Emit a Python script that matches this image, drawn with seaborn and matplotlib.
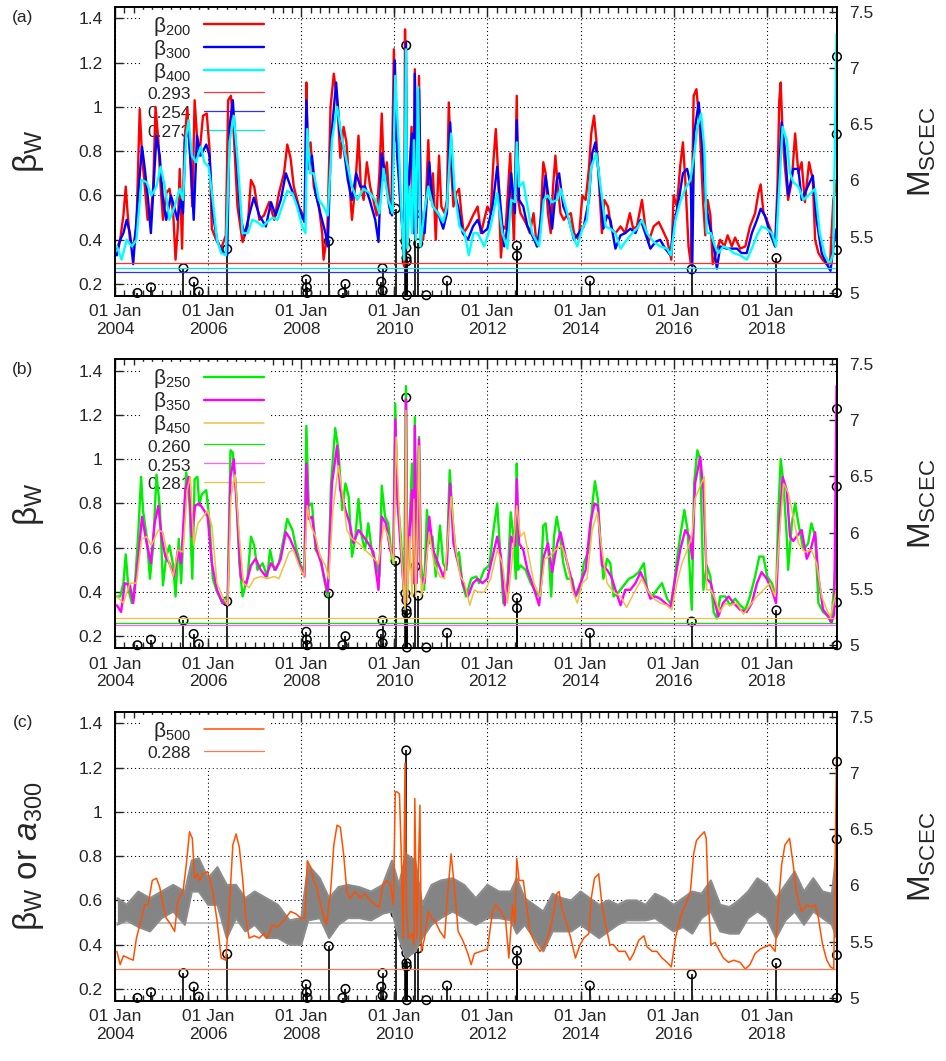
import numpy as np
import pandas as pd
import matplotlib
matplotlib.use('Agg')
import matplotlib.pyplot as plt
import matplotlib.dates as mdates
from matplotlib.ticker import FixedLocator, FuncFormatter
import seaborn as sns

sns.set_theme(style='ticks')
plt.rcParams['font.family'] = ['Liberation Sans', 'DejaVu Sans']
plt.rcParams['mathtext.fontset'] = 'custom'
plt.rcParams['mathtext.rm'] = 'Liberation Sans'
plt.rcParams['mathtext.it'] = 'Liberation Sans:italic'
plt.rcParams['mathtext.bf'] = 'Liberation Sans:bold'

# ---- data: (decimal year, beta) ----
beta200 = [(2004.04,0.36),(2004.11,0.40),(2004.18,0.51),(2004.23,0.64),(2004.27,0.52),(2004.32,0.40),(2004.39,0.37),(2004.46,0.46),(2004.53,0.99),(2004.58,0.78),(2004.64,0.64),(2004.70,0.49),(2004.77,0.51),(2004.82,0.64),(2004.87,1.00),(2004.93,0.85),(2004.98,0.64),(2005.03,0.49),(2005.10,0.61),(2005.17,0.63),(2005.25,0.52),(2005.30,0.31),(2005.35,0.46),(2005.39,0.72),(2005.44,0.36),(2005.49,0.84),(2005.55,0.99),(2005.60,0.85),(2005.66,0.55),(2005.71,1.03),(2005.77,0.84),(2005.81,0.78),(2005.89,0.96),(2005.97,0.97),(2006.03,0.81),(2006.08,0.45),(2006.17,0.40),(2006.28,0.36),(2006.38,0.42),(2006.43,1.03),(2006.49,1.05),(2006.55,0.88),(2006.63,0.55),(2006.74,0.39),(2006.85,0.46),(2006.92,0.67),(2006.99,0.64),(2007.10,0.49),(2007.20,0.51),(2007.31,0.57),(2007.42,0.49),(2007.52,0.61),(2007.63,0.70),(2007.70,0.83),(2007.77,0.77),(2007.84,0.64),(2007.95,0.55),(2008.04,0.51),(2008.09,0.52),(2008.11,1.11),(2008.14,0.81),(2008.20,0.84),(2008.27,0.64),(2008.38,0.55),(2008.45,0.43),(2008.48,0.31),(2008.56,0.43),(2008.63,1.00),(2008.70,1.15),(2008.77,1.03),(2008.84,0.77),(2008.91,0.91),(2008.97,0.84),(2009.04,0.64),(2009.09,0.49),(2009.16,0.64),(2009.23,0.87),(2009.28,0.64),(2009.34,0.58),(2009.41,0.75),(2009.48,0.64),(2009.55,0.58),(2009.62,0.51),(2009.68,0.70),(2009.73,0.97),(2009.78,0.67),(2009.84,0.75),(2009.91,0.52),(2009.94,0.58),(2009.99,1.26),(2010.04,0.85),(2010.08,0.82),(2010.12,0.58),(2010.16,0.49),(2010.21,0.28),(2010.23,1.35),(2010.26,0.43),(2010.30,0.58),(2010.33,0.70),(2010.37,0.91),(2010.41,0.43),(2010.44,1.17),(2010.48,0.43),(2010.53,1.14),(2010.57,0.55),(2010.62,0.40),(2010.68,0.58),(2010.73,0.85),(2010.78,0.58),(2010.83,0.70),(2010.89,0.40),(2010.96,0.78),(2011.01,0.55),(2011.08,0.52),(2011.13,0.58),(2011.17,1.02),(2011.22,0.73),(2011.27,0.55),(2011.33,0.61),(2011.39,0.63),(2011.44,0.52),(2011.49,0.43),(2011.58,0.46),(2011.69,0.51),(2011.79,0.55),(2011.86,0.43),(2011.93,0.49),(2012.00,0.55),(2012.07,0.52),(2012.13,0.76),(2012.18,0.90),(2012.23,0.70),(2012.29,0.32),(2012.34,0.46),(2012.39,0.45),(2012.43,0.58),(2012.49,0.79),(2012.54,0.52),(2012.57,0.40),(2012.63,1.05),(2012.66,0.58),(2012.71,0.52),(2012.79,0.49),(2012.86,0.46),(2012.91,0.43),(2012.99,0.52),(2013.06,0.37),(2013.13,0.43),(2013.20,0.75),(2013.25,0.70),(2013.30,0.52),(2013.36,0.43),(2013.41,0.64),(2013.46,0.78),(2013.51,0.64),(2013.57,0.52),(2013.64,0.49),(2013.71,0.51),(2013.79,0.52),(2013.86,0.43),(2013.96,0.40),(2014.04,0.60),(2014.11,0.58),(2014.18,0.72),(2014.23,0.88),(2014.29,0.96),(2014.34,0.85),(2014.41,0.61),(2014.46,0.43),(2014.51,0.58),(2014.59,0.55),(2014.66,0.45),(2014.75,0.43),(2014.86,0.46),(2014.96,0.43),(2015.06,0.52),(2015.13,0.45),(2015.21,0.46),(2015.32,0.58),(2015.39,0.46),(2015.46,0.39),(2015.57,0.46),(2015.68,0.48),(2015.75,0.45),(2015.86,0.40),(2015.95,0.31),(2016.00,0.60),(2016.07,0.55),(2016.14,0.73),(2016.20,0.84),(2016.25,0.67),(2016.32,0.37),(2016.37,0.29),(2016.43,1.05),(2016.49,1.08),(2016.56,0.91),(2016.63,0.58),(2016.68,0.42),(2016.73,0.58),(2016.79,0.51),(2016.84,0.29),(2016.91,0.34),(2017.00,0.40),(2017.09,0.37),(2017.16,0.42),(2017.25,0.37),(2017.32,0.41),(2017.43,0.36),(2017.54,0.37),(2017.64,0.46),(2017.75,0.52),(2017.82,0.61),(2017.87,0.65),(2017.93,0.52),(2018.00,0.49),(2018.11,0.43),(2018.18,0.37),(2018.23,0.64),(2018.27,1.03),(2018.30,1.11),(2018.34,0.88),(2018.39,0.73),(2018.46,0.58),(2018.54,0.67),(2018.61,0.88),(2018.68,0.70),(2018.75,0.75),(2018.82,0.57),(2018.91,0.75),(2018.99,0.67),(2019.04,0.40),(2019.11,0.34),(2019.20,0.31),(2019.29,0.29),(2019.36,0.29),(2019.43,0.58),(2019.50,0.66)]

beta300 = [(2004.04,0.33),(2004.11,0.40),(2004.18,0.43),(2004.25,0.49),(2004.32,0.43),(2004.39,0.29),(2004.46,0.49),(2004.53,0.69),(2004.58,0.82),(2004.64,0.72),(2004.71,0.58),(2004.77,0.43),(2004.84,0.69),(2004.89,0.87),(2004.96,0.78),(2005.03,0.58),(2005.10,0.49),(2005.20,0.60),(2005.27,0.55),(2005.34,0.49),(2005.41,0.58),(2005.46,0.52),(2005.51,0.85),(2005.57,0.91),(2005.64,0.70),(2005.69,0.49),(2005.76,0.87),(2005.84,0.78),(2005.96,0.83),(2006.03,0.78),(2006.10,0.52),(2006.19,0.40),(2006.31,0.34),(2006.41,0.33),(2006.46,0.91),(2006.53,1.03),(2006.60,0.81),(2006.69,0.51),(2006.78,0.42),(2006.88,0.51),(2006.98,0.59),(2007.10,0.51),(2007.24,0.46),(2007.35,0.57),(2007.45,0.51),(2007.56,0.58),(2007.67,0.70),(2007.77,0.64),(2007.88,0.58),(2007.99,0.52),(2008.07,0.48),(2008.11,1.03),(2008.16,0.72),(2008.23,0.78),(2008.31,0.61),(2008.41,0.52),(2008.52,0.43),(2008.57,0.37),(2008.64,0.85),(2008.75,1.11),(2008.83,0.88),(2008.91,0.82),(2009.00,0.67),(2009.09,0.58),(2009.18,0.70),(2009.27,0.64),(2009.37,0.64),(2009.47,0.58),(2009.59,0.49),(2009.66,0.39),(2009.73,0.79),(2009.80,0.70),(2009.89,0.55),(2009.95,0.51),(2010.01,1.21),(2010.06,0.78),(2010.14,0.55),(2010.21,0.34),(2010.25,1.29),(2010.28,0.43),(2010.33,0.73),(2010.38,0.88),(2010.42,0.43),(2010.44,1.15),(2010.48,0.46),(2010.53,1.08),(2010.57,0.49),(2010.65,0.43),(2010.75,0.75),(2010.83,0.55),(2010.94,0.52),(2011.05,0.45),(2011.13,0.52),(2011.20,0.93),(2011.27,0.63),(2011.37,0.55),(2011.47,0.43),(2011.58,0.40),(2011.69,0.46),(2011.79,0.49),(2011.89,0.43),(2012.00,0.45),(2012.11,0.55),(2012.21,0.73),(2012.27,0.58),(2012.36,0.37),(2012.43,0.46),(2012.51,0.70),(2012.59,0.52),(2012.63,0.94),(2012.68,0.58),(2012.77,0.55),(2012.86,0.46),(2012.96,0.42),(2013.07,0.37),(2013.18,0.55),(2013.25,0.69),(2013.32,0.58),(2013.39,0.45),(2013.49,0.67),(2013.54,0.70),(2013.63,0.55),(2013.75,0.49),(2013.86,0.40),(2013.96,0.43),(2014.07,0.46),(2014.18,0.58),(2014.25,0.79),(2014.32,0.84),(2014.39,0.70),(2014.49,0.45),(2014.57,0.51),(2014.64,0.49),(2014.75,0.36),(2014.86,0.42),(2014.96,0.43),(2015.07,0.45),(2015.18,0.43),(2015.29,0.49),(2015.39,0.43),(2015.50,0.36),(2015.61,0.39),(2015.71,0.40),(2015.82,0.36),(2015.93,0.33),(2016.00,0.46),(2016.11,0.58),(2016.20,0.70),(2016.29,0.72),(2016.37,0.64),(2016.40,0.28),(2016.44,0.88),(2016.54,1.02),(2016.61,0.85),(2016.68,0.58),(2016.75,0.49),(2016.84,0.40),(2016.93,0.27),(2017.00,0.37),(2017.14,0.36),(2017.25,0.36),(2017.36,0.36),(2017.46,0.34),(2017.57,0.34),(2017.68,0.43),(2017.79,0.49),(2017.87,0.54),(2017.96,0.51),(2018.07,0.43),(2018.18,0.37),(2018.25,0.64),(2018.32,0.93),(2018.39,0.81),(2018.46,0.60),(2018.57,0.72),(2018.68,0.72),(2018.75,0.58),(2018.86,0.63),(2018.99,0.69),(2019.07,0.49),(2019.18,0.34),(2019.29,0.29),(2019.37,0.26),(2019.43,0.37),(2019.50,0.45)]

beta400 = [(2004.04,0.37),(2004.14,0.31),(2004.25,0.40),(2004.36,0.37),(2004.46,0.40),(2004.57,0.67),(2004.68,0.66),(2004.78,0.60),(2004.89,0.64),(2004.98,0.73),(2005.07,0.64),(2005.17,0.49),(2005.28,0.55),(2005.39,0.63),(2005.46,0.58),(2005.53,0.87),(2005.58,0.94),(2005.65,0.78),(2005.74,0.75),(2005.84,0.82),(2005.92,0.75),(2006.01,0.73),(2006.10,0.58),(2006.19,0.40),(2006.28,0.34),(2006.38,0.33),(2006.46,0.84),(2006.55,0.96),(2006.63,0.77),(2006.74,0.43),(2006.85,0.43),(2006.95,0.49),(2007.06,0.48),(2007.17,0.46),(2007.27,0.48),(2007.38,0.50),(2007.49,0.49),(2007.59,0.55),(2007.70,0.62),(2007.81,0.61),(2007.91,0.55),(2008.02,0.46),(2008.09,0.43),(2008.13,0.90),(2008.19,0.70),(2008.27,0.70),(2008.38,0.58),(2008.48,0.55),(2008.57,0.51),(2008.66,0.85),(2008.77,1.00),(2008.88,0.85),(2008.98,0.75),(2009.09,0.64),(2009.20,0.58),(2009.34,0.63),(2009.48,0.61),(2009.59,0.58),(2009.68,0.52),(2009.77,0.72),(2009.87,0.58),(2009.96,0.52),(2010.02,1.14),(2010.09,0.85),(2010.16,0.49),(2010.21,0.31),(2010.25,1.26),(2010.28,0.36),(2010.33,0.64),(2010.38,0.43),(2010.42,0.85),(2010.46,0.40),(2010.51,1.09),(2010.56,0.37),(2010.64,0.52),(2010.73,0.64),(2010.83,0.55),(2010.94,0.52),(2011.05,0.48),(2011.13,0.55),(2011.22,0.88),(2011.30,0.61),(2011.40,0.46),(2011.51,0.43),(2011.60,0.33),(2011.70,0.43),(2011.79,0.43),(2011.93,0.37),(2012.07,0.46),(2012.21,0.61),(2012.32,0.43),(2012.43,0.36),(2012.51,0.58),(2012.59,0.57),(2012.63,0.84),(2012.68,0.64),(2012.77,0.66),(2012.86,0.55),(2012.96,0.43),(2013.11,0.37),(2013.21,0.58),(2013.29,0.60),(2013.39,0.57),(2013.50,0.58),(2013.57,0.63),(2013.68,0.55),(2013.82,0.43),(2013.93,0.37),(2014.04,0.45),(2014.14,0.49),(2014.23,0.73),(2014.34,0.79),(2014.43,0.64),(2014.54,0.46),(2014.64,0.45),(2014.75,0.43),(2014.86,0.36),(2014.96,0.39),(2015.11,0.43),(2015.21,0.45),(2015.32,0.49),(2015.43,0.43),(2015.57,0.39),(2015.71,0.37),(2015.86,0.36),(2015.94,0.33),(2016.04,0.49),(2016.14,0.57),(2016.25,0.63),(2016.36,0.67),(2016.44,0.78),(2016.51,0.91),(2016.59,0.97),(2016.66,0.81),(2016.71,0.43),(2016.80,0.43),(2016.89,0.37),(2016.96,0.34),(2017.07,0.37),(2017.18,0.36),(2017.29,0.34),(2017.43,0.33),(2017.57,0.31),(2017.68,0.36),(2017.79,0.42),(2017.89,0.46),(2018.00,0.45),(2018.11,0.43),(2018.20,0.37),(2018.27,0.64),(2018.34,0.91),(2018.43,0.85),(2018.50,0.70),(2018.57,0.66),(2018.68,0.64),(2018.79,0.58),(2018.89,0.60),(2019.04,0.63),(2019.14,0.43),(2019.25,0.33),(2019.36,0.29),(2019.43,0.34),(2019.50,1.33)]

beta250 = [(2004.04,0.38),(2004.11,0.38),(2004.18,0.44),(2004.23,0.57),(2004.29,0.41),(2004.36,0.35),(2004.43,0.44),(2004.50,0.67),(2004.56,0.92),(2004.60,0.77),(2004.68,0.65),(2004.75,0.46),(2004.82,0.61),(2004.89,0.93),(2004.96,0.79),(2005.03,0.43),(2005.10,0.56),(2005.17,0.61),(2005.25,0.52),(2005.30,0.38),(2005.37,0.64),(2005.42,0.44),(2005.48,0.71),(2005.53,0.94),(2005.60,0.80),(2005.66,0.46),(2005.71,0.91),(2005.77,0.92),(2005.81,0.79),(2005.86,0.84),(2005.96,0.86),(2006.03,0.71),(2006.10,0.46),(2006.19,0.40),(2006.31,0.35),(2006.42,0.38),(2006.48,1.04),(2006.53,1.03),(2006.60,0.86),(2006.67,0.53),(2006.74,0.38),(2006.85,0.47),(2006.92,0.65),(2006.99,0.61),(2007.06,0.50),(2007.17,0.53),(2007.27,0.47),(2007.33,0.59),(2007.42,0.50),(2007.52,0.53),(2007.63,0.65),(2007.70,0.73),(2007.81,0.68),(2007.90,0.59),(2007.99,0.52),(2008.07,0.50),(2008.11,1.15),(2008.16,0.79),(2008.23,0.80),(2008.31,0.59),(2008.41,0.56),(2008.48,0.47),(2008.57,0.38),(2008.64,0.89),(2008.73,1.14),(2008.80,1.04),(2008.88,0.77),(2008.95,0.89),(2009.02,0.83),(2009.09,0.56),(2009.16,0.64),(2009.23,0.82),(2009.30,0.65),(2009.37,0.59),(2009.44,0.71),(2009.52,0.58),(2009.61,0.53),(2009.68,0.47),(2009.73,0.88),(2009.80,0.74),(2009.87,0.71),(2009.94,0.56),(2009.98,0.53),(2010.02,1.25),(2010.06,0.85),(2010.14,0.65),(2010.21,0.38),(2010.25,1.33),(2010.28,0.41),(2010.33,0.71),(2010.38,0.98),(2010.42,0.44),(2010.44,1.19),(2010.48,0.47),(2010.53,1.10),(2010.57,0.53),(2010.64,0.41),(2010.70,0.77),(2010.76,0.62),(2010.82,0.65),(2010.89,0.47),(2010.98,0.70),(2011.05,0.53),(2011.12,0.50),(2011.19,0.95),(2011.26,0.71),(2011.33,0.56),(2011.39,0.58),(2011.46,0.44),(2011.54,0.38),(2011.65,0.46),(2011.76,0.47),(2011.82,0.44),(2011.93,0.50),(2012.04,0.52),(2012.13,0.68),(2012.21,0.80),(2012.27,0.59),(2012.34,0.35),(2012.43,0.44),(2012.50,0.76),(2012.56,0.65),(2012.61,0.46),(2012.63,0.98),(2012.66,0.50),(2012.71,0.52),(2012.82,0.50),(2012.93,0.44),(2013.04,0.40),(2013.13,0.38),(2013.20,0.70),(2013.25,0.71),(2013.32,0.56),(2013.37,0.38),(2013.43,0.65),(2013.49,0.74),(2013.56,0.65),(2013.63,0.53),(2013.71,0.46),(2013.82,0.46),(2013.89,0.38),(2013.99,0.41),(2014.07,0.53),(2014.18,0.59),(2014.25,0.79),(2014.31,0.90),(2014.37,0.82),(2014.43,0.62),(2014.49,0.46),(2014.57,0.55),(2014.64,0.53),(2014.71,0.38),(2014.82,0.40),(2014.93,0.43),(2015.04,0.46),(2015.14,0.47),(2015.25,0.49),(2015.36,0.53),(2015.43,0.41),(2015.54,0.38),(2015.64,0.41),(2015.75,0.44),(2015.86,0.37),(2015.96,0.34),(2016.06,0.53),(2016.14,0.65),(2016.23,0.77),(2016.30,0.68),(2016.39,0.32),(2016.44,0.89),(2016.51,1.04),(2016.57,1.00),(2016.64,0.41),(2016.71,0.52),(2016.79,0.47),(2016.86,0.31),(2016.93,0.28),(2017.00,0.38),(2017.11,0.38),(2017.21,0.34),(2017.32,0.37),(2017.43,0.34),(2017.54,0.32),(2017.64,0.38),(2017.75,0.47),(2017.84,0.56),(2017.93,0.56),(2018.01,0.47),(2018.11,0.44),(2018.20,0.38),(2018.25,0.77),(2018.30,1.00),(2018.36,0.89),(2018.43,0.65),(2018.46,0.50),(2018.54,0.71),(2018.61,0.80),(2018.68,0.71),(2018.79,0.59),(2018.89,0.62),(2018.96,0.71),(2019.04,0.65),(2019.11,0.35),(2019.21,0.31),(2019.32,0.29),(2019.39,0.26),(2019.45,0.44),(2019.50,0.58)]

beta350 = [(2004.04,0.34),(2004.13,0.31),(2004.21,0.44),(2004.32,0.43),(2004.39,0.35),(2004.50,0.56),(2004.58,0.74),(2004.68,0.62),(2004.77,0.53),(2004.85,0.71),(2004.93,0.79),(2005.00,0.65),(2005.08,0.56),(2005.17,0.53),(2005.27,0.47),(2005.35,0.59),(2005.42,0.53),(2005.51,0.86),(2005.58,0.92),(2005.65,0.65),(2005.72,0.79),(2005.81,0.80),(2005.91,0.77),(2005.99,0.74),(2006.08,0.53),(2006.19,0.41),(2006.31,0.35),(2006.42,0.35),(2006.48,0.92),(2006.55,1.00),(2006.62,0.77),(2006.70,0.47),(2006.81,0.43),(2006.92,0.52),(2007.02,0.55),(2007.13,0.50),(2007.24,0.47),(2007.35,0.53),(2007.45,0.50),(2007.56,0.55),(2007.67,0.67),(2007.76,0.64),(2007.86,0.59),(2007.97,0.52),(2008.07,0.47),(2008.11,0.98),(2008.16,0.73),(2008.23,0.74),(2008.33,0.59),(2008.43,0.53),(2008.52,0.44),(2008.57,0.40),(2008.66,0.89),(2008.77,1.06),(2008.84,0.86),(2008.95,0.77),(2009.04,0.71),(2009.12,0.62),(2009.23,0.68),(2009.34,0.65),(2009.44,0.62),(2009.55,0.58),(2009.66,0.41),(2009.73,0.74),(2009.82,0.71),(2009.91,0.59),(2009.98,0.56),(2010.02,1.18),(2010.07,0.80),(2010.14,0.59),(2010.23,0.34),(2010.25,1.27),(2010.28,0.44),(2010.33,0.68),(2010.38,0.86),(2010.42,0.44),(2010.44,1.15),(2010.48,0.44),(2010.53,1.09),(2010.57,0.47),(2010.65,0.44),(2010.75,0.74),(2010.83,0.59),(2010.94,0.53),(2011.05,0.47),(2011.13,0.53),(2011.20,0.89),(2011.27,0.62),(2011.37,0.53),(2011.47,0.44),(2011.58,0.38),(2011.69,0.44),(2011.79,0.46),(2011.89,0.44),(2012.00,0.46),(2012.11,0.56),(2012.21,0.65),(2012.29,0.56),(2012.37,0.34),(2012.44,0.44),(2012.51,0.65),(2012.59,0.61),(2012.63,0.91),(2012.68,0.62),(2012.77,0.59),(2012.86,0.50),(2012.96,0.44),(2013.11,0.34),(2013.21,0.56),(2013.30,0.62),(2013.39,0.49),(2013.50,0.62),(2013.57,0.67),(2013.68,0.56),(2013.79,0.47),(2013.89,0.38),(2014.00,0.44),(2014.11,0.50),(2014.21,0.71),(2014.30,0.80),(2014.37,0.79),(2014.46,0.52),(2014.57,0.50),(2014.66,0.47),(2014.75,0.41),(2014.86,0.34),(2014.96,0.41),(2015.07,0.41),(2015.18,0.44),(2015.29,0.49),(2015.39,0.44),(2015.50,0.37),(2015.61,0.38),(2015.71,0.37),(2015.82,0.35),(2015.93,0.33),(2016.04,0.47),(2016.14,0.59),(2016.25,0.68),(2016.34,0.65),(2016.40,0.55),(2016.46,0.89),(2016.57,1.01),(2016.64,0.86),(2016.71,0.46),(2016.80,0.44),(2016.89,0.35),(2016.96,0.29),(2017.06,0.35),(2017.18,0.38),(2017.29,0.35),(2017.43,0.32),(2017.57,0.31),(2017.68,0.35),(2017.79,0.44),(2017.89,0.49),(2018.00,0.46),(2018.11,0.41),(2018.20,0.35),(2018.27,0.70),(2018.34,0.92),(2018.43,0.86),(2018.50,0.65),(2018.57,0.63),(2018.64,0.65),(2018.75,0.68),(2018.86,0.55),(2018.94,0.59),(2019.04,0.67),(2019.11,0.47),(2019.21,0.32),(2019.32,0.29),(2019.39,0.26),(2019.45,0.30),(2019.50,1.33)]

beta450 = [(2004.04,0.38),(2004.18,0.35),(2004.32,0.44),(2004.46,0.44),(2004.57,0.64),(2004.68,0.65),(2004.78,0.61),(2004.93,0.68),(2005.03,0.67),(2005.14,0.55),(2005.25,0.47),(2005.35,0.59),(2005.46,0.58),(2005.55,0.86),(2005.62,0.92),(2005.69,0.61),(2005.78,0.71),(2005.89,0.74),(2005.99,0.77),(2006.08,0.70),(2006.19,0.44),(2006.31,0.38),(2006.42,0.34),(2006.49,0.83),(2006.58,0.93),(2006.67,0.65),(2006.76,0.44),(2006.88,0.42),(2006.99,0.46),(2007.13,0.47),(2007.27,0.46),(2007.42,0.47),(2007.52,0.46),(2007.63,0.52),(2007.74,0.58),(2007.83,0.59),(2007.95,0.52),(2008.06,0.47),(2008.13,0.79),(2008.20,0.70),(2008.31,0.65),(2008.41,0.56),(2008.52,0.52),(2008.59,0.46),(2008.68,0.77),(2008.80,0.97),(2008.90,0.82),(2008.98,0.68),(2009.09,0.64),(2009.23,0.62),(2009.37,0.59),(2009.52,0.56),(2009.66,0.53),(2009.77,0.70),(2009.87,0.65),(2009.98,0.53),(2010.04,1.10),(2010.11,0.74),(2010.18,0.47),(2010.23,0.32),(2010.25,1.22),(2010.28,0.35),(2010.33,0.65),(2010.38,0.38),(2010.42,0.82),(2010.46,0.38),(2010.53,1.06),(2010.58,0.38),(2010.65,0.46),(2010.75,0.67),(2010.85,0.53),(2010.98,0.47),(2011.08,0.46),(2011.22,0.83),(2011.32,0.59),(2011.42,0.47),(2011.51,0.44),(2011.62,0.34),(2011.72,0.41),(2011.79,0.40),(2011.93,0.40),(2012.07,0.46),(2012.21,0.59),(2012.32,0.53),(2012.43,0.35),(2012.54,0.56),(2012.63,0.79),(2012.71,0.65),(2012.79,0.67),(2012.89,0.56),(2013.00,0.44),(2013.13,0.38),(2013.23,0.55),(2013.34,0.56),(2013.46,0.59),(2013.59,0.61),(2013.70,0.55),(2013.82,0.41),(2013.93,0.35),(2014.04,0.44),(2014.14,0.46),(2014.25,0.68),(2014.36,0.76),(2014.46,0.59),(2014.57,0.44),(2014.71,0.40),(2014.86,0.38),(2014.99,0.33),(2015.11,0.38),(2015.21,0.42),(2015.32,0.46),(2015.43,0.41),(2015.57,0.37),(2015.71,0.35),(2015.86,0.34),(2015.96,0.32),(2016.07,0.44),(2016.18,0.53),(2016.29,0.59),(2016.39,0.65),(2016.46,0.82),(2016.57,0.88),(2016.66,0.92),(2016.71,0.41),(2016.80,0.41),(2016.89,0.37),(2016.99,0.31),(2017.11,0.35),(2017.21,0.34),(2017.36,0.35),(2017.50,0.30),(2017.64,0.34),(2017.79,0.38),(2017.93,0.41),(2018.07,0.44),(2018.18,0.38),(2018.27,0.65),(2018.36,0.89),(2018.46,0.85),(2018.57,0.74),(2018.68,0.62),(2018.82,0.58),(2018.96,0.59),(2019.07,0.53),(2019.18,0.38),(2019.29,0.32),(2019.37,0.29),(2019.50,0.41)]

beta500 = [(2004.04,0.37),(2004.11,0.31),(2004.18,0.35),(2004.28,0.34),(2004.39,0.33),(2004.46,0.43),(2004.57,0.52),(2004.64,0.58),(2004.71,0.58),(2004.80,0.69),(2004.89,0.70),(2004.96,0.66),(2005.03,0.58),(2005.10,0.52),(2005.20,0.49),(2005.28,0.46),(2005.35,0.60),(2005.46,0.64),(2005.53,0.76),(2005.60,0.91),(2005.66,0.88),(2005.71,0.70),(2005.77,0.72),(2005.81,0.69),(2005.89,0.72),(2005.99,0.73),(2006.10,0.64),(2006.19,0.51),(2006.28,0.34),(2006.38,0.33),(2006.46,0.58),(2006.53,0.85),(2006.60,0.90),(2006.67,0.84),(2006.74,0.70),(2006.81,0.52),(2006.88,0.43),(2006.99,0.44),(2007.10,0.43),(2007.20,0.45),(2007.27,0.43),(2007.38,0.49),(2007.49,0.48),(2007.63,0.51),(2007.77,0.55),(2007.88,0.54),(2007.99,0.52),(2008.08,0.52),(2008.13,0.78),(2008.20,0.75),(2008.27,0.69),(2008.33,0.66),(2008.45,0.55),(2008.54,0.49),(2008.63,0.64),(2008.70,0.85),(2008.77,0.94),(2008.84,0.93),(2008.91,0.81),(2008.98,0.64),(2009.05,0.61),(2009.16,0.64),(2009.27,0.61),(2009.37,0.63),(2009.48,0.60),(2009.59,0.58),(2009.68,0.57),(2009.75,0.67),(2009.84,0.69),(2009.92,0.67),(2009.98,0.58),(2010.02,1.09),(2010.06,1.09),(2010.11,1.08),(2010.16,0.73),(2010.19,0.43),(2010.23,1.22),(2010.26,0.58),(2010.30,0.43),(2010.38,0.45),(2010.42,0.40),(2010.44,1.06),(2010.48,0.43),(2010.55,1.03),(2010.58,0.37),(2010.65,0.43),(2010.73,0.55),(2010.80,0.52),(2010.87,0.51),(2010.98,0.46),(2011.08,0.43),(2011.15,0.64),(2011.22,0.81),(2011.30,0.64),(2011.37,0.46),(2011.47,0.42),(2011.58,0.36),(2011.65,0.31),(2011.72,0.36),(2011.86,0.37),(2012.00,0.38),(2012.11,0.55),(2012.18,0.58),(2012.29,0.55),(2012.39,0.51),(2012.46,0.34),(2012.54,0.58),(2012.59,0.49),(2012.63,0.79),(2012.68,0.69),(2012.77,0.69),(2012.82,0.61),(2012.91,0.46),(2013.04,0.40),(2013.13,0.37),(2013.21,0.39),(2013.30,0.43),(2013.39,0.51),(2013.49,0.63),(2013.54,0.64),(2013.59,0.57),(2013.68,0.51),(2013.79,0.43),(2013.89,0.34),(2013.99,0.40),(2014.07,0.43),(2014.18,0.45),(2014.23,0.61),(2014.30,0.70),(2014.39,0.72),(2014.46,0.58),(2014.54,0.49),(2014.63,0.40),(2014.71,0.40),(2014.82,0.37),(2014.96,0.37),(2015.06,0.33),(2015.14,0.36),(2015.25,0.42),(2015.36,0.44),(2015.43,0.39),(2015.54,0.37),(2015.64,0.37),(2015.75,0.34),(2015.86,0.32),(2015.95,0.30),(2016.04,0.43),(2016.14,0.52),(2016.25,0.58),(2016.36,0.64),(2016.43,0.81),(2016.49,0.87),(2016.57,0.89),(2016.66,0.91),(2016.70,0.88),(2016.75,0.58),(2016.80,0.40),(2016.89,0.41),(2016.99,0.37),(2017.07,0.34),(2017.18,0.32),(2017.29,0.33),(2017.43,0.32),(2017.54,0.29),(2017.64,0.31),(2017.75,0.36),(2017.86,0.38),(2017.96,0.39),(2018.07,0.40),(2018.18,0.37),(2018.25,0.58),(2018.32,0.76),(2018.39,0.85),(2018.49,0.88),(2018.57,0.76),(2018.64,0.63),(2018.75,0.55),(2018.86,0.58),(2018.96,0.57),(2019.04,0.58),(2019.11,0.52),(2019.20,0.40),(2019.29,0.33),(2019.37,0.30),(2019.44,0.29),(2019.50,1.26)]

# a300: upper / lower envelope of the grey point cloud in panel (c)
a300_t = [2004.05,2004.25,2004.5,2004.75,2005.0,2005.25,2005.5,2005.65,2005.8,2006.0,2006.2,2006.4,2006.6,2006.8,2007.0,2007.25,2007.5,2007.75,2008.0,2008.15,2008.4,2008.6,2008.8,2009.0,2009.25,2009.5,2009.75,2009.95,2010.1,2010.25,2010.45,2010.6,2010.8,2011.0,2011.25,2011.5,2011.75,2012.0,2012.25,2012.5,2012.63,2012.8,2013.0,2013.2,2013.4,2013.6,2013.8,2014.0,2014.2,2014.4,2014.6,2014.8,2015.0,2015.2,2015.4,2015.6,2015.8,2016.0,2016.2,2016.4,2016.6,2016.8,2017.0,2017.2,2017.4,2017.6,2017.8,2018.0,2018.2,2018.4,2018.6,2018.8,2019.0,2019.2,2019.4,2019.5]
a300_hi = [0.61,0.58,0.64,0.61,0.64,0.67,0.64,0.78,0.79,0.70,0.75,0.67,0.67,0.61,0.64,0.61,0.58,0.51,0.52,0.76,0.70,0.61,0.66,0.67,0.66,0.64,0.67,0.78,0.67,0.81,0.78,0.58,0.67,0.69,0.70,0.67,0.61,0.67,0.64,0.64,0.70,0.61,0.58,0.55,0.63,0.61,0.60,0.64,0.61,0.58,0.60,0.58,0.60,0.60,0.58,0.63,0.61,0.58,0.61,0.64,0.63,0.69,0.58,0.57,0.60,0.64,0.70,0.67,0.61,0.67,0.73,0.64,0.70,0.64,0.63,0.82]
a300_lo = [0.49,0.51,0.48,0.46,0.52,0.55,0.49,0.64,0.64,0.58,0.58,0.43,0.52,0.46,0.49,0.43,0.43,0.40,0.40,0.51,0.52,0.43,0.49,0.52,0.52,0.51,0.54,0.55,0.43,0.34,0.37,0.43,0.49,0.52,0.55,0.52,0.49,0.52,0.52,0.51,0.45,0.49,0.43,0.37,0.46,0.46,0.46,0.49,0.46,0.43,0.46,0.49,0.51,0.51,0.51,0.52,0.49,0.46,0.48,0.45,0.52,0.55,0.46,0.45,0.45,0.52,0.55,0.52,0.43,0.51,0.55,0.49,0.55,0.52,0.49,0.43]
a300_mean = 0.50

# earthquakes (date, magnitude on the right axis)
eq_dates = ['2004-06-25','2004-10-09','2005-06-21','2005-09-09','2005-10-19','2006-05-30',
            '2008-02-10','2008-02-14','2008-02-18','2008-08-04','2008-11-21','2008-12-13',
            '2009-09-20','2009-09-30','2009-10-01','2010-01-10','2010-03-28','2010-04-04',
            '2010-04-05','2010-04-06','2010-04-08','2010-04-09','2010-06-15','2010-07-07',
            '2010-09-09','2011-02-18','2012-08-19','2012-08-20','2014-03-14','2016-05-22',
            '2018-03-18','2019-07-04','2019-07-05','2019-07-05','2019-07-06']
eq_mag = [5.00,5.05,5.22,5.10,5.01,5.39,
          5.12,5.05,5.00,5.46,5.00,5.08,
          5.10,5.22,5.02,5.75,5.46,7.20,
          5.40,5.31,5.28,4.98,5.70,5.44,
          4.98,5.11,5.42,5.33,5.11,5.21,
          5.31,6.41,5.38,5.00,7.10]

ytick_vals = [0.2, 0.4, 0.6, 0.8, 1.0, 1.2, 1.4]
mtick_vals = [5.0, 5.5, 6.0, 6.5, 7.0, 7.5]


def to_dates(years):
    years = np.asarray(years, dtype=float)
    return pd.Timestamp('2004-01-01') + pd.to_timedelta((years - 2004.0) * 365.25, unit='D')


def add_series(ax, pairs, color, lw):
    t, b = zip(*pairs)
    sns.lineplot(x=to_dates(t), y=list(b), ax=ax, color=color, lw=lw,
                 estimator=None, sort=False, legend=False)
    return ax.lines[-1]


def setup_panel(ax, letter):
    ax.set_xlim(pd.Timestamp('2004-01-01'), pd.Timestamp('2019-07-06'))
    ax.set_ylim(0.146, 1.451)
    ax.xaxis.set_major_locator(mdates.YearLocator(2))
    ax.xaxis.set_major_formatter(mdates.DateFormatter('%d %b\n%Y'))
    ax.xaxis.set_minor_locator(FixedLocator(mdates.date2num(to_dates(np.arange(2004, 2019.6, 0.2)))))
    ax.yaxis.set_major_locator(FixedLocator(ytick_vals))
    ax.yaxis.set_major_formatter(FuncFormatter(lambda v, p: f'{v:g}'))
    ax.tick_params(axis='x', which='major', direction='in', length=7, width=1, top=True,
                   labelsize=12.5, pad=6)
    ax.tick_params(axis='x', which='minor', direction='in', length=4, width=1, top=True)
    ax.tick_params(axis='y', direction='in', length=6, width=1, labelsize=12.5, pad=9, right=False)
    ax.grid(True, which='major', color='black', linestyle=(0, (1, 2.5)), lw=0.8)
    ax.set_axisbelow(True)
    for s in ax.spines.values():
        s.set_linewidth(1.3)
        s.set_color('black')
    ax.text(-0.128, 0.965, letter, transform=ax.transAxes, fontsize=12.5, ha='center', va='center')

    ax2 = ax.twinx()
    ax2.set_ylim(4.973, 7.542)
    ax2.yaxis.set_major_locator(FixedLocator(mtick_vals))
    ax2.yaxis.set_major_formatter(FuncFormatter(lambda v, p: f'{v:g}'))
    ax2.tick_params(axis='y', direction='in', length=6, width=1, labelsize=12.5, pad=9)
    ax2.set_ylabel('M$_{\\rm SCEC}$', fontsize=23)
    ax2.yaxis.set_label_coords(1.097, 0.5)
    d = pd.to_datetime(eq_dates)
    ax2.vlines(d, 4.9, eq_mag, color='black', lw=1.2)
    ax2.scatter(d, eq_mag, s=38, facecolors='none', edgecolors='black', linewidths=1.1,
                clip_on=False, zorder=3)
    ax.set_zorder(ax2.get_zorder() + 1)
    ax.patch.set_visible(False)
    return ax2


def finish_panel(ax, ylabel):
    ax.set_xlabel('')
    ax.set_ylabel(ylabel, fontsize=24)
    ax.yaxis.set_label_coords(-0.095, 0.5)


def add_legend(ax, handles, labels):
    leg = ax.legend(handles, labels, loc='upper right', bbox_to_anchor=(0.213, 0.99),
                    markerfirst=False, frameon=True, fancybox=False, framealpha=1,
                    facecolor='white', edgecolor='white', fontsize=12.5,
                    handlelength=3.45, handletextpad=0.75, handleheight=1.3,
                    labelspacing=0.0, borderpad=0.3, borderaxespad=0.0)
    for txt in leg.get_texts():
        if txt.get_text().startswith('β'):
            txt.set_fontsize(15)
    leg.set_zorder(1.5)


fig = plt.figure(figsize=(9.46, 10.61), dpi=100)
left, width, height = 0.1216, 0.7632, 0.2724

# (a)
ax = fig.add_axes([left, 0.7210, width, height])
setup_panel(ax, '(a)')
h1 = add_series(ax, beta200, '#ff0000', 1.7)
h2 = add_series(ax, beta300, '#0000ff', 1.7)
h3 = add_series(ax, beta400, '#00ffff', 1.7)
h4 = ax.axhline(0.293, color='#ff3030', lw=0.9)
h5 = ax.axhline(0.254, color='#3030ff', lw=0.9)
h6 = ax.axhline(0.273, color='#00e8e8', lw=0.9)
add_legend(ax, [h1, h2, h3, h4, h5, h6],
           ['β$_{200}$', 'β$_{300}$', 'β$_{400}$', '0.293', '0.254', '0.273'])
finish_panel(ax, 'β$_{\\rm W}$')

# (b)
ax = fig.add_axes([left, 0.3890, width, height])
setup_panel(ax, '(b)')
h1 = add_series(ax, beta250, '#00ee00', 1.7)
h2 = add_series(ax, beta350, '#ff00ff', 1.7)
h3 = add_series(ax, beta450, '#eec140', 1.1)
h4 = ax.axhline(0.260, color='#00ee00', lw=0.9)
h5 = ax.axhline(0.253, color='#ff60ff', lw=0.9)
h6 = ax.axhline(0.281, color='#eec140', lw=0.9)
add_legend(ax, [h1, h2, h3, h4, h5, h6],
           ['β$_{250}$', 'β$_{350}$', 'β$_{450}$', '0.260', '0.253', '0.281'])
finish_panel(ax, 'β$_{\\rm W}$')

# (c)
ax = fig.add_axes([left, 0.0566, width, height])
setup_panel(ax, '(c)')
ax.axhline(a300_mean, color='#b4b4b4', lw=1.2, zorder=1.2)
ta = to_dates(a300_t)
ax.fill_between(ta, a300_lo, a300_hi, color='#848484', lw=0, zorder=1.4)
sns.lineplot(x=ta, y=a300_hi, ax=ax, color='#8c8c8c', lw=1.5, estimator=None, sort=False, legend=False)
sns.lineplot(x=ta, y=a300_lo, ax=ax, color='#8c8c8c', lw=1.5, estimator=None, sort=False, legend=False)
h1 = add_series(ax, beta500, '#ff5000', 1.1)
h2 = ax.axhline(0.288, color='#ff7a50', lw=0.9)
add_legend(ax, [h1, h2], ['β$_{500}$', '0.288'])
finish_panel(ax, 'β$_{\\rm W}$ or $a_{300}$')

fig.savefig('out.png', dpi=100)
